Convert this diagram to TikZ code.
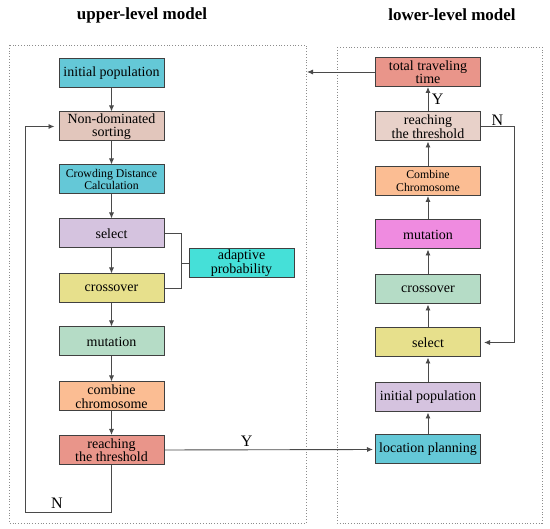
\documentclass[tikz,border=0pt]{standalone}
\usepackage{fontspec}
\setmainfont{Liberation Serif}
\usetikzlibrary{arrows.meta}

\definecolor{cyanbox}{HTML}{64C8D7}
\definecolor{sandbox}{HTML}{E2C6BC}
\definecolor{lilacbox}{HTML}{D5C3DF}
\definecolor{yellowbox}{HTML}{E7E08C}
\definecolor{mintbox}{HTML}{B5DCC6}
\definecolor{peachbox}{HTML}{FBBD93}
\definecolor{salmonbox}{HTML}{E9958A}
\definecolor{turqbox}{HTML}{45E0D8}
\definecolor{pinkbox}{HTML}{EF8BE0}
\definecolor{linegray}{HTML}{4A4A4A}

\tikzset{
  box/.style={draw=black!75, line width=1pt, minimum width=105pt, minimum height=29pt,
    inner sep=0.5pt, align=center, font=\fontsize{14}{13.5}\selectfont},
  smallbox/.style={box, font=\fontsize{11.8}{12.5}\selectfont},
  panel/.style={draw=black!45, dotted, line width=0.8pt},
  link/.style={draw=linegray, line width=0.9pt},
  yn/.style={font=\fontsize{16}{18}\selectfont},
  >={Latex[length=6pt,width=5pt]}
}

\begin{document}
\begin{tikzpicture}[x=1pt,y=-1pt]
  \useasboundingbox (0,0) rectangle (550,529);

  % frames and titles
  \draw [panel] (9,45) rectangle (306,523);
  \draw [panel] (337,47) rectangle (542,523);
  \node (uptitle) at (142,15) {\fontsize{17}{19}\selectfont\bfseries upper-level model};
  \node (lowtitle) at (452,15) {\fontsize{17}{19}\selectfont\bfseries lower-level model};

  % upper level
  \node [box, fill=cyanbox] (init1) at (111.5,73.5) {initial population};
  \node [box, fill=sandbox] (nds) at (111.5,126.5) {Non-dominated\\sorting};
  \node [smallbox, fill=cyanbox] (crowd) at (111.5,179.5) {Crowding Distance\\Calculation};
  \node [box, fill=lilacbox] (sel1) at (111.5,233.5) {select};
  \node [box, fill=yellowbox] (cross1) at (111.5,288.5) {crossover};
  \node [box, fill=mintbox] (mut1) at (111.5,341.5) {mutation};
  \node [box, fill=peachbox] (comb1) at (111.5,396.5) {combine\\chromosome};
  \node [box, fill=salmonbox] (reach1) at (111.5,450) {reaching\\the threshold};
  \node [box, fill=turqbox] (adapt) at (241.5,263) {adaptive\\probability};

  % lower level
  \node [box, fill=salmonbox] (total) at (428,72) {total traveling\\time};
  \node [box, fill=sandbox!80] (reach2) at (428,126.5) {reaching\\the threshold};
  \node [smallbox, fill=peachbox] (comb2) at (428,181) {Combine\\Chromosome};
  \node [box, fill=pinkbox] (mut2) at (428,234.5) {mutation};
  \node [box, fill=mintbox] (cross2) at (428,289.5) {crossover};
  \node [box, fill=yellowbox] (sel2) at (428,342.5) {select};
  \node [box, fill=lilacbox] (init2) at (428,397.5) {initial population};
  \node [box, fill=cyanbox] (loc) at (428,449.5) {location planning};

  \coordinate (brk) at (181,0);
  \coordinate (nleft) at (25,512);
  \coordinate (nright) at (514,0);
  \coordinate (back) at (307,72);

  % upper chain
  \draw [link, ->] (init1) -- (nds);
  \draw [link, ->] (nds) -- (crowd);
  \draw [link, ->] (crowd) -- (sel1);
  \draw [link, ->] (sel1) -- (cross1);
  \draw [link, ->] (cross1) -- (mut1);
  \draw [link, ->] (mut1) -- (comb1);
  \draw [link, ->] (comb1) -- (reach1);
  \draw [link] (sel1.east) -- (sel1.east -| brk) -- (cross1.east -| brk) -- (cross1.east);
  \draw [link] (adapt.west -| brk) -- (adapt.west);
  \draw [link, ->, shorten >=4pt] (reach1.south) -- (reach1.south |- nleft)
    -- node [above, pos=0.63, yn] {N} (nleft) |- (nds.west);
  \draw [link, ->, shorten >=2pt] (reach1.east) -- node [above, pos=0.39, yn] {Y} (loc.west);

  % lower chain
  \draw [link, ->] (loc) -- (init2);
  \draw [link, ->] (init2) -- (sel2);
  \draw [link, ->] (sel2) -- (cross2);
  \draw [link, ->] (cross2) -- (mut2);
  \draw [link, ->] (mut2) -- (comb2);
  \draw [link, ->] (comb2) -- (reach2);
  \draw [link, ->] (reach2) -- node [right, yn] {Y} (total);
  \draw [link, ->, shorten >=3pt] (reach2.east)
    -- node [above, yn, inner sep=1pt] {N} (reach2.east -| nright) |- (sel2.east);
  \draw [link, ->] (total.west) -- (back);
\end{tikzpicture}
\end{document}
